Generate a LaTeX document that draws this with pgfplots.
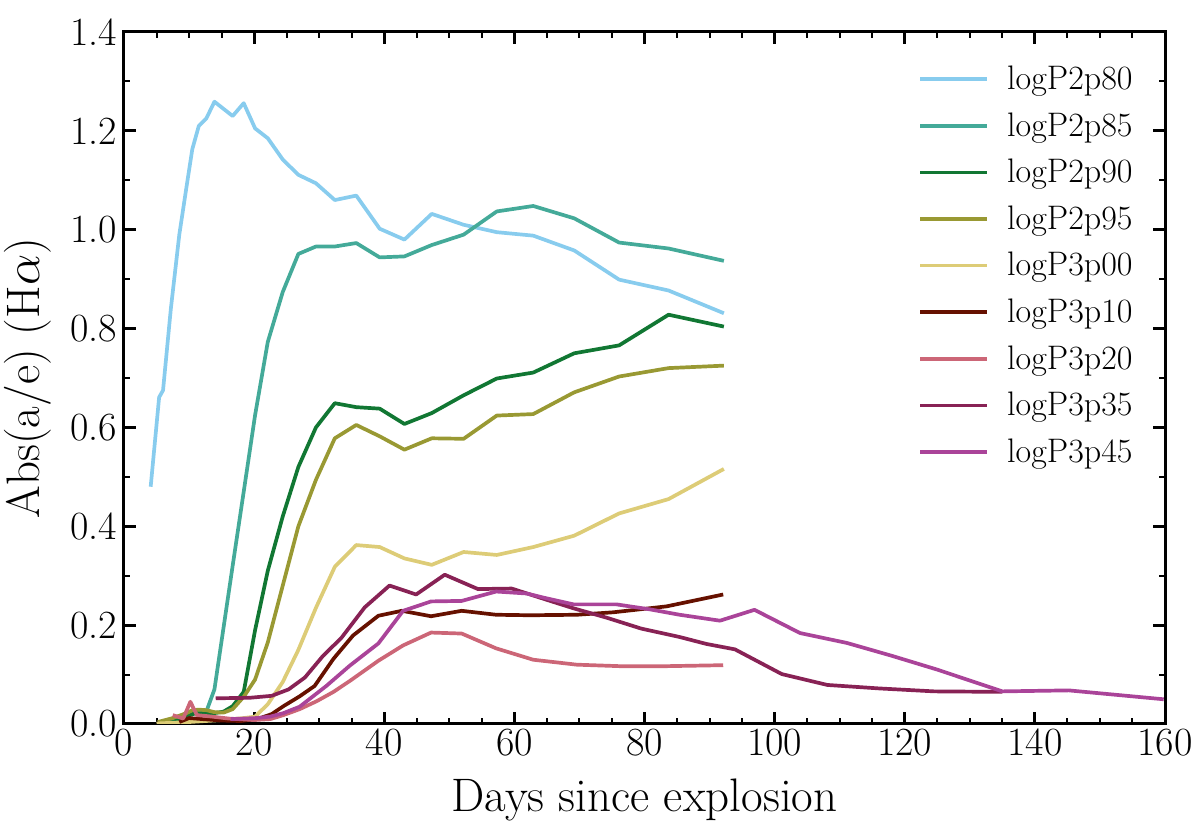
\documentclass[border=0pt]{standalone}
\usepackage{pgfplots}
\pgfplotsset{compat=1.18}
\definecolor{cA}{HTML}{88CCEE}
\definecolor{cB}{HTML}{44AA99}
\definecolor{cC}{HTML}{117733}
\definecolor{cD}{HTML}{999933}
\definecolor{cE}{HTML}{DDCC77}
\definecolor{cF}{HTML}{661100}
\definecolor{cG}{HTML}{CC6677}
\definecolor{cH}{HTML}{882255}
\definecolor{cI}{HTML}{AA4499}
\begin{document}
\begin{tikzpicture}
\useasboundingbox (-62pt,-55.5pt) rectangle (538pt,362pt);
\begin{axis}[
  scale only axis, width=520.5pt, height=346pt,
  xmin=0, xmax=160, ymin=0, ymax=1.4,
  xtick={0,20,...,160}, ytick={0,0.2,...,1.4},
  minor x tick num=3, minor y tick num=1,
  tick align=inside, tick pos=both,
  major tick length=6pt, minor tick length=3pt,
  every major tick/.append style={line width=1.4pt, black},
  every minor tick/.append style={line width=1.0pt, black},
  axis line style={line width=1.5pt},
  /pgf/number format/assume math mode=true,
  tick label style={font=\fontsize{20}{24}\selectfont},
  yticklabel style={/pgf/number format/.cd, fixed, fixed zerofill, precision=1},
  xticklabel style={yshift=1pt},
  xlabel={Days since explosion},
  ylabel={Abs(a/e) (H$\alpha$)},
  label style={font=\fontsize{23.5}{28}\selectfont},
  xlabel style={at={(axis description cs:0.5,-0.1098)}, anchor=center},
  ylabel style={at={(axis description cs:-0.0922,0.5)}, anchor=center},
  legend style={draw=none, fill=none, at={(0.973,0.953)}, anchor=north east,
    font=\fontsize{17}{20}\selectfont, inner sep=0pt, row sep=9pt,
    nodes={inner ysep=0.5pt},
    /tikz/every odd column/.append style={column sep=7pt}},
  legend cell align=left,
  legend image code/.code={\draw[#1] (0pt,0pt) -- (33.5pt,0pt);},
  every axis plot/.append style={line width=1.85pt, line join=round},
]
\addplot[cA] coordinates {(4.1,0.48) (5.4,0.661) (6.0,0.675) (7.2,0.84) (8.5,0.99) (9.6,1.086) (10.5,1.163) (11.5,1.21) (12.65,1.225) (13.9,1.259) (16.7,1.23) (18.4,1.256) (20.15,1.205) (22.1,1.185) (24.4,1.142) (26.8,1.111) (29.5,1.094) (32.4,1.06) (35.7,1.069) (39.3,1.002) (43.1,0.98) (47.3,1.032) (52.2,1.01) (57.3,0.995) (62.9,0.988) (69.2,0.958) (76.1,0.899) (83.7,0.877) (92.2,0.831)};
\addlegendentry{logP2p80}
\addplot[cB] coordinates {(7.5,0.003) (9.6,0.012) (10.5,0.025) (11.5,0.027) (12.65,0.025) (13.9,0.07) (16.7,0.32) (18.4,0.47) (20.15,0.625) (22.1,0.773) (24.4,0.874) (26.8,0.951) (29.5,0.966) (32.4,0.966) (35.7,0.973) (39.3,0.944) (43.1,0.946) (47.3,0.969) (52.2,0.99) (57.3,1.037) (62.9,1.048) (69.2,1.023) (76.1,0.974) (83.7,0.962) (92.2,0.937)};
\addlegendentry{logP2p85}
\addplot[cC] coordinates {(7.0,0.003) (9.6,0.015) (10.5,0.02) (11.5,0.022) (12.65,0.022) (13.9,0.022) (15.3,0.025) (16.7,0.036) (18.4,0.065) (20.15,0.19) (22.1,0.31) (24.4,0.42) (26.8,0.52) (29.5,0.6) (32.4,0.649) (35.7,0.641) (39.3,0.638) (43.1,0.607) (47.3,0.629) (52.2,0.665) (57.3,0.699) (62.9,0.711) (69.2,0.75) (76.1,0.766) (83.7,0.828) (92.2,0.804)};
\addlegendentry{logP2p90}
\addplot[cD] coordinates {(5.2,0.004) (7.5,0.012) (9.6,0.022) (10.5,0.028) (11.5,0.029) (12.65,0.028) (13.9,0.024) (15.3,0.023) (16.7,0.03) (18.4,0.055) (20.15,0.09) (22.1,0.165) (24.4,0.28) (26.8,0.4) (29.5,0.494) (32.4,0.578) (35.7,0.605) (39.3,0.582) (43.1,0.555) (47.3,0.578) (52.2,0.577) (57.3,0.624) (62.9,0.627) (69.2,0.671) (76.1,0.703) (83.7,0.72) (92.2,0.725)};
\addlegendentry{logP2p95}
\addplot[cE] coordinates {(5.0,0.001) (10.0,0.004) (15.0,0.008) (18.4,0.012) (20.15,0.015) (22.1,0.04) (24.4,0.085) (26.8,0.15) (29.5,0.235) (32.4,0.318) (35.7,0.362) (39.3,0.358) (43.1,0.335) (47.3,0.322) (52.2,0.348) (57.3,0.342) (62.9,0.358) (69.2,0.381) (76.1,0.426) (83.7,0.455) (92.2,0.516)};
\addlegendentry{logP3p00}
\addplot[cF] coordinates {(8.5,0.004) (10.0,0.012) (12.0,0.01) (15.0,0.007) (18.0,0.006) (20.5,0.01) (22.7,0.02) (24.5,0.036) (27.0,0.056) (29.3,0.077) (32.2,0.132) (35.2,0.179) (39.1,0.219) (42.7,0.229) (47.2,0.218) (51.9,0.229) (57.2,0.221) (62.4,0.22) (69.6,0.221) (75.2,0.226) (83.4,0.238) (92.1,0.262)};
\addlegendentry{logP3p10}
\addplot[cG] coordinates {(7.5,0.018) (9.1,0.011) (10.2,0.045) (11.2,0.018) (13.5,0.015) (16.1,0.011) (20.0,0.008) (22.5,0.01) (24.5,0.018) (27.0,0.03) (29.6,0.046) (32.2,0.065) (34.7,0.087) (39.1,0.128) (42.9,0.159) (47.2,0.185) (51.9,0.183) (57.2,0.153) (62.9,0.13) (69.6,0.12) (76.2,0.117) (83.4,0.117) (92.1,0.119)};
\addlegendentry{logP3p20}
\addplot[cH] coordinates {(14.1,0.052) (19.3,0.053) (22.7,0.057) (25.3,0.07) (27.8,0.094) (30.6,0.138) (33.4,0.174) (37.0,0.236) (40.8,0.28) (44.9,0.262) (49.3,0.302) (54.4,0.273) (59.6,0.274) (65.5,0.249) (69.1,0.234) (74.2,0.215) (79.5,0.193) (85.4,0.176) (89.5,0.162) (93.9,0.151) (101.1,0.101) (108.1,0.079) (116.0,0.072) (124.5,0.066) (135.0,0.065)};
\addlegendentry{logP3p35}
\addplot[cI] coordinates {(16.4,0.01) (20.3,0.012) (22.5,0.015) (24.5,0.022) (27.0,0.035) (31.1,0.077) (34.7,0.118) (39.1,0.163) (42.9,0.229) (47.2,0.248) (51.9,0.249) (57.2,0.268) (61.9,0.264) (64.7,0.255) (69.1,0.242) (75.7,0.242) (80.8,0.232) (85.4,0.221) (91.6,0.209) (96.9,0.231) (103.9,0.184) (111.1,0.164) (118.0,0.138) (125.0,0.11) (135.0,0.066) (145.2,0.068) (159.8,0.05)};
\addlegendentry{logP3p45}
\end{axis}
\end{tikzpicture}
\end{document}
